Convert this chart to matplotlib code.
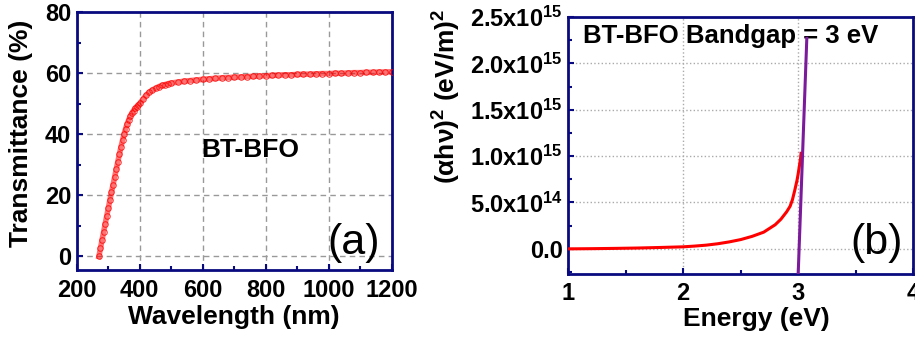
import matplotlib
matplotlib.use("Agg")
import matplotlib.pyplot as plt
from matplotlib.ticker import MultipleLocator

plt.rcParams['font.family'] = ['Liberation Sans', 'DejaVu Sans']
plt.rcParams['mathtext.fontset'] = 'custom'
plt.rcParams['mathtext.bf'] = 'Liberation Sans:bold'
plt.rcParams['mathtext.rm'] = 'Liberation Sans:bold'
plt.rcParams['mathtext.default'] = 'bf'

# panel (a): transmittance spectrum
wavelength = [270, 275, 280, 285, 290, 295, 300, 305, 310, 315, 320, 325, 330,
              335, 340, 345, 350, 355, 360, 365, 370, 375, 380, 385, 390, 395,
              400, 410, 420, 430, 440, 450, 460, 470, 480, 490, 500, 520, 540,
              560, 580, 600, 620, 640, 660, 680, 700, 720, 740, 760, 780, 800,
              820, 840, 860, 880, 900, 920, 940, 960, 980, 1000, 1020, 1040,
              1060, 1080, 1100, 1120, 1140, 1160, 1180, 1200]
transmittance = [0, 2.7, 5.4, 8, 10.7, 13.3, 15.9, 18.5, 21, 23.5, 26, 28.5,
                 31, 33.4, 35.8, 38, 40.1, 41.9, 43.5, 44.8, 46, 47, 47.8,
                 48.5, 49.1, 49.6, 50.1, 51.5, 52.8, 53.8, 54.5, 55.1, 55.6,
                 56, 56.3, 56.6, 56.8, 57.1, 57.4, 57.6, 57.8, 58.0, 58.2,
                 58.3, 58.5, 58.6, 58.7, 58.8, 58.9, 59.0, 59.1, 59.2, 59.3,
                 59.4, 59.5, 59.5, 59.6, 59.7, 59.7, 59.8, 59.9, 59.9, 60.0,
                 60.0, 60.1, 60.2, 60.2, 60.3, 60.3, 60.4, 60.4, 60.5]

# panel (b): Tauc plot
energy = [1.0, 1.2, 1.4, 1.6, 1.8, 2.0, 2.1, 2.2, 2.3, 2.4, 2.5, 2.6, 2.7,
          2.75, 2.8, 2.85, 2.9, 2.93, 2.95, 2.97, 2.99, 3.0, 3.01, 3.02, 3.025]
tauc = [0, 0.02e14, 0.05e14, 0.09e14, 0.15e14, 0.22e14, 0.3e14, 0.4e14,
        0.55e14, 0.75e14, 1.0e14, 1.35e14, 1.8e14, 2.2e14, 2.6e14, 3.2e14,
        4.0e14, 4.6e14, 5.3e14, 6.3e14, 7.4e14, 8.1e14, 8.9e14, 9.7e14,
        10.3e14]
fit_energy = [3.0, 3.075]
fit_tauc = [-2.7e14, 2.27e15]

yticks_b = [0, 5e14, 1e15, 1.5e15, 2e15, 2.5e15]
yticklabels_b = ['0.0', '5.0x10$^{14}$', '1.0x10$^{15}$', '1.5x10$^{15}$',
                 '2.0x10$^{15}$', '2.5x10$^{15}$']

navy = '#0a0a80'
tick_fs = 17
label_fs = 19

fig = plt.figure(figsize=(9.15, 3.39), dpi=100)
ax1 = fig.add_axes([0.084, 0.203, 0.344, 0.761])
ax2 = fig.add_axes([0.621, 0.192, 0.377, 0.758])

for ax in (ax1, ax2):
    for s in ax.spines.values():
        s.set_color(navy)
        s.set_linewidth(2)
    ax.tick_params(which='both', direction='in', color=navy, labelsize=tick_fs,
                   top=False, right=False)
    ax.tick_params(which='major', length=4, width=1.5)
    ax.tick_params(which='minor', length=3, width=1.5)
    ax.tick_params(axis='x', pad=6)
    ax.tick_params(axis='y', pad=4)

ax1.plot(wavelength, transmittance, '-', color='red', lw=4, alpha=0.55, zorder=3)
ax1.plot(wavelength, transmittance, 'o', mfc='none', mec='red', ms=4, mew=0.7,
         alpha=0.8, zorder=4)
ax1.set_xlim(200, 1200)
ax1.set_ylim(-4.5, 80)
ax1.set_xticks([200, 400, 600, 800, 1000, 1200])
ax1.set_yticks([0, 20, 40, 60, 80])
ax1.xaxis.set_minor_locator(MultipleLocator(100))
ax1.yaxis.set_minor_locator(MultipleLocator(10))
ax1.grid(True, which='major', color='#999999', ls=(0, (4, 3)), lw=1)
for lab in ax1.get_xticklabels() + ax1.get_yticklabels():
    lab.set_fontweight('bold')
ax1.set_xlabel('Wavelength (nm)', fontsize=label_fs, fontweight='bold')
ax1.set_ylabel('Transmittance (%)', fontsize=label_fs, fontweight='bold')
ax1.xaxis.set_label_coords(0.498, -0.135)
ax1.yaxis.set_label_coords(-0.14, 0.53)
ax1.text(750, 35, 'BT-BFO', fontsize=19, fontweight='bold', ha='center', va='center')
ax1.text(1079, 4.3, '(a)', fontsize=31, ha='center', va='center')

ax2.plot(energy, tauc, '-', color='red', lw=2.2, zorder=3)
ax2.plot(fit_energy, fit_tauc, '-', color='#7b1a9a', lw=2.2, zorder=4)
ax2.set_xlim(1, 4)
ax2.set_ylim(-2.7e14, 2.5e15)
ax2.set_xticks([1, 2, 3, 4])
ax2.set_yticks(yticks_b)
ax2.set_yticklabels(yticklabels_b)
ax2.xaxis.set_minor_locator(MultipleLocator(0.5))
ax2.yaxis.set_minor_locator(MultipleLocator(2.5e14))
ax2.grid(True, which='major', color='#aaaaaa', ls=':', lw=1)
for lab in ax2.get_xticklabels() + ax2.get_yticklabels():
    lab.set_fontweight('bold')
ax2.set_xlabel('Energy (eV)', fontsize=label_fs, fontweight='bold')
ax2.set_ylabel('(αhν)$^2$ (eV/m)$^2$', fontsize=label_fs, fontweight='bold')
ax2.xaxis.set_label_coords(0.545, -0.13)
ax2.yaxis.set_label_coords(-0.305, 0.69)
ax2.text(1.13, 2.3e15, 'BT-BFO Bandgap = 3 eV', fontsize=18.5, fontweight='bold',
         ha='left', va='center', zorder=2)
ax2.text(3.68, 0.65e14, '(b)', fontsize=31, ha='center', va='center')

fig.savefig('out.png', dpi=100)
